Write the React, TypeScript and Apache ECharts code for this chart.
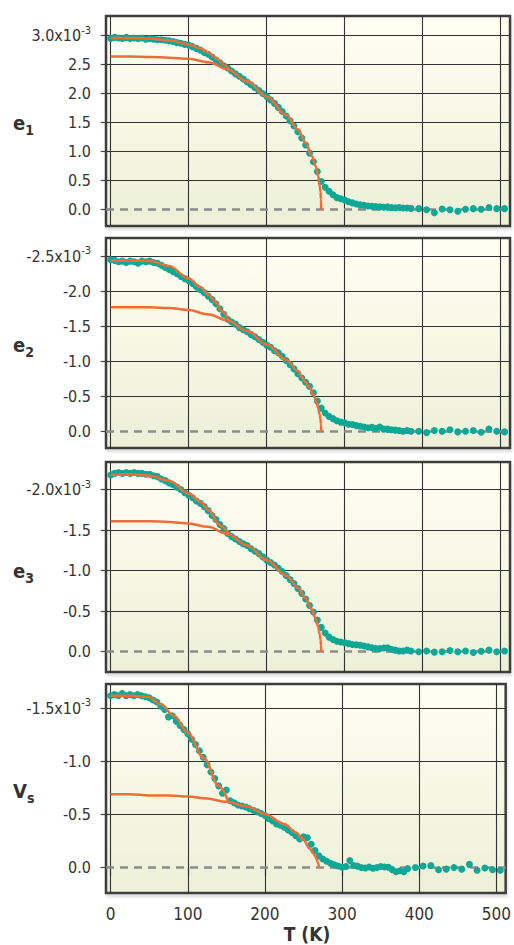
import React, { useEffect, useRef } from 'react';
import * as echarts from 'echarts';

// Temperatures (K) shared by the four measured series
const TEMPS = [
  0, 5, 10, 15, 20, 25, 30, 35, 40, 45, 50, 55, 60, 65, 70, 75, 80, 85, 90, 95,
  100, 105, 110, 115, 120, 125, 130, 135, 140, 145, 150, 155, 160, 165, 170, 175, 180, 185, 190, 195,
  200, 205, 210, 215, 220, 225, 230, 235, 240, 245, 250, 255, 260, 265, 270, 275, 280, 285, 290, 295,
  300, 305, 310, 315, 320, 325, 330, 335, 340, 345, 350, 355, 360, 365, 370, 375, 380, 385,
  395, 405, 415, 425, 435, 445, 455, 465, 475, 485, 495, 505,
];

// Measured strains (units of 1e-3)
const E1 = [
  2.95, 2.97, 2.96, 2.95, 2.97, 2.95, 2.96, 2.95, 2.96, 2.94,
  2.95, 2.94, 2.93, 2.93, 2.92, 2.91, 2.90, 2.88, 2.87, 2.85,
  2.84, 2.81, 2.78, 2.75, 2.71, 2.68, 2.63, 2.58, 2.53, 2.48,
  2.44, 2.39, 2.34, 2.30, 2.25, 2.20, 2.15, 2.10, 2.05, 2.00,
  1.95, 1.89, 1.83, 1.76, 1.69, 1.61, 1.53, 1.44, 1.34, 1.23,
  1.11, 0.97, 0.82, 0.65, 0.48, 0.38, 0.31, 0.25, 0.20, 0.18,
  0.16, 0.13, 0.11, 0.09, 0.075, 0.07, 0.055, 0.05, 0.045, 0.04,
  0.035, 0.04, 0.03, 0.025, 0.03, 0.02, 0.02, 0.015,
  0.01, -0.01, -0.06, 0.005, -0.01, -0.035, 0.0, 0.01, 0.0, 0.03, 0.01, 0.01,
];
const E2 = [
  -2.45, -2.44, -2.42, -2.43, -2.41, -2.43, -2.42, -2.40, -2.43, -2.42,
  -2.43, -2.41, -2.40, -2.37, -2.34, -2.31, -2.28, -2.25, -2.21, -2.18,
  -2.15, -2.11, -2.06, -2.02, -1.98, -1.93, -1.88, -1.82, -1.75, -1.67,
  -1.60, -1.56, -1.53, -1.48, -1.45, -1.42, -1.38, -1.35, -1.31, -1.27,
  -1.23, -1.20, -1.15, -1.12, -1.07, -1.01, -0.95, -0.89, -0.82, -0.76,
  -0.70, -0.64, -0.55, -0.43, -0.33, -0.26, -0.21, -0.18, -0.15, -0.13,
  -0.12, -0.10, -0.095, -0.08, -0.07, -0.06, -0.05, -0.055, -0.04, -0.06,
  -0.03, -0.03, -0.02, -0.015, -0.01, 0.0, -0.01, 0.0,
  0.0, 0.02, -0.01, 0.0, -0.02, 0.01, 0.0, -0.01, 0.015, -0.03, 0.0, 0.01,
];
const E3 = [
  -2.18, -2.20, -2.21, -2.20, -2.21, -2.20, -2.21, -2.20, -2.20, -2.19,
  -2.19, -2.17, -2.16, -2.13, -2.11, -2.08, -2.06, -2.03, -2.00, -1.96,
  -1.93, -1.90, -1.86, -1.83, -1.79, -1.74, -1.68, -1.63, -1.57, -1.52,
  -1.46, -1.42, -1.39, -1.36, -1.33, -1.31, -1.27, -1.24, -1.21, -1.17,
  -1.13, -1.10, -1.07, -1.03, -0.99, -0.94, -0.89, -0.84, -0.78, -0.72,
  -0.65, -0.57, -0.49, -0.39, -0.30, -0.23, -0.18, -0.15, -0.13, -0.12,
  -0.11, -0.10, -0.09, -0.085, -0.08, -0.07, -0.06, -0.05, -0.04, -0.04,
  -0.045, -0.05, -0.03, -0.02, -0.01, -0.01, -0.02, -0.01,
  0.0, -0.01, 0.005, 0.0, -0.015, 0.0, -0.01, 0.01, -0.005, -0.02, 0.0, -0.01,
];
const VS = [
  -1.62, -1.63, -1.62, -1.64, -1.62, -1.63, -1.62, -1.63, -1.62, -1.61,
  -1.60, -1.58, -1.56, -1.52, -1.49, -1.42, -1.43, -1.38, -1.34, -1.30,
  -1.26, -1.21, -1.16, -1.10, -1.04, -0.97, -0.90, -0.84, -0.77, -0.70,
  -0.73, -0.63, -0.61, -0.59, -0.58, -0.57, -0.555, -0.54, -0.525, -0.51,
  -0.49, -0.46, -0.44, -0.41, -0.40, -0.38, -0.355, -0.33, -0.30, -0.27,
  -0.29, -0.28, -0.22, -0.16, -0.11, -0.08, -0.06, -0.04, -0.025, -0.015,
  -0.003, -0.01, -0.066, -0.02, -0.013, 0.0, 0.005, -0.005, 0.006, 0.0,
  -0.01, -0.005, -0.003, 0.02, 0.04, 0.03, 0.04, 0.01,
  0.0, -0.015, -0.02, 0.02, 0.015, 0.0, 0.015, -0.03, 0.025, 0.005, 0.02, 0.025,
];

// Fitted curves [T, value]: single order parameter (low) and two-transition fit (high)
const FIT_LOW_1 = [[0, 2.64], [25, 2.64], [50, 2.63], [75, 2.62], [100, 2.60], [125, 2.54], [150, 2.42], [175, 2.21], [200, 1.95], [225, 1.63], [240, 1.38], [250, 1.15], [258, 0.92], [263, 0.74], [266, 0.58], [268, 0.40], [269, 0.30], [269.7, 0.17], [270, 0]];
const FIT_HIGH_1 = [[0, 2.96], [25, 2.96], [50, 2.95], [75, 2.92], [100, 2.85], [115, 2.78], [125, 2.71], [135, 2.62], [145, 2.50], [152, 2.40]];
const FIT_LOW_2 = [[0, -1.77], [25, -1.77], [50, -1.77], [75, -1.76], [100, -1.73], [125, -1.67], [150, -1.58], [175, -1.43], [200, -1.24], [225, -1.02], [240, -0.86], [245, -0.77], [250, -0.70], [255, -0.62], [260, -0.52], [264, -0.41], [266, -0.33], [268, -0.24], [269, -0.17], [269.7, -0.10], [270, 0]];
const FIT_HIGH_2 = [[0, -2.44], [25, -2.44], [50, -2.43], [75, -2.36], [100, -2.18], [115, -2.06], [125, -1.95], [135, -1.84], [142, -1.72], [152, -1.57]];
const FIT_LOW_3 = [[0, -1.61], [25, -1.61], [50, -1.61], [75, -1.60], [100, -1.58], [125, -1.54], [150, -1.45], [175, -1.31], [200, -1.13], [225, -0.94], [240, -0.79], [250, -0.66], [258, -0.52], [263, -0.40], [266, -0.31], [268, -0.22], [269, -0.15], [269.7, -0.08], [270, 0]];
const FIT_HIGH_3 = [[0, -2.18], [25, -2.19], [50, -2.17], [75, -2.11], [100, -1.95], [115, -1.85], [125, -1.75], [140, -1.56], [152, -1.44]];
const FIT_LOW_4 = [[0, -0.69], [25, -0.69], [50, -0.68], [75, -0.68], [100, -0.67], [125, -0.65], [150, -0.62], [175, -0.58], [200, -0.505], [225, -0.41], [240, -0.33], [250, -0.26], [258, -0.18], [263, -0.13], [266, -0.095], [268, -0.06], [269, -0.04], [270, 0]];
const FIT_HIGH_4 = [[0, -1.62], [25, -1.62], [48, -1.61], [65, -1.54], [82, -1.43], [100, -1.27], [121, -1.03], [140, -0.77], [152, -0.63]];

// Tick labels
const X_TICKS = [0, 100, 200, 300, 400, 500];
const Y_TICKS_1 = [0, 0.5, 1.0, 1.5, 2.0, 2.5, 3.0];
const Y_TICKS_2 = [0, -0.5, -1.0, -1.5, -2.0, -2.5];
const Y_TICKS_3 = [0, -0.5, -1.0, -1.5, -2.0];
const Y_TICKS_4 = [0, -0.5, -1.0, -1.5];
const NAME_MAIN = ['e', 'e', 'e', 'V'];
const NAME_SUB = ['1', '2', '3', 's'];

const FONT = "'Liberation Sans Narrow', 'DejaVu Sans Condensed', 'Roboto', sans-serif";
const TEXT = '#333333';
const TEAL = '#0fa897';
const ORANGE = '#f26d36';

const PANELS = [
  { top: 16, height: 210, min: -0.29, max: 3.34, inverse: false, data: E1, ticks: Y_TICKS_1, low: FIT_LOW_1, high: FIT_HIGH_1, nameY: 123 },
  { top: 238, height: 210, min: -2.76, max: 0.24, inverse: true, data: E2, ticks: Y_TICKS_2, low: FIT_LOW_2, high: FIT_HIGH_2, nameY: 345 },
  { top: 462, height: 210, min: -2.34, max: 0.25, inverse: true, data: E3, ticks: Y_TICKS_3, low: FIT_LOW_3, high: FIT_HIGH_3, nameY: 571 },
  { top: 684, height: 209, min: -1.73, max: 0.24, inverse: true, data: VS, ticks: Y_TICKS_4, low: FIT_LOW_4, high: FIT_HIGH_4, nameY: 791 },
];

export default function App() {
  const ref = useRef<HTMLDivElement>(null);
  useEffect(() => {
    const chart = echarts.init(ref.current!, null, { renderer: 'svg' });
    const bg = new echarts.graphic.LinearGradient(0, 0, 0, 1, [
      { offset: 0, color: '#fefef3' },
      { offset: 1, color: '#edf0d7' },
    ]);
    const grid = PANELS.map((p) => ({
      left: 106, width: 404, top: p.top, height: p.height,
      show: true, backgroundColor: bg, borderColor: '#3c3c3c', borderWidth: 2.5,
      shadowColor: 'rgba(0,0,0,0.12)', shadowOffsetX: 1, shadowOffsetY: 3, shadowBlur: 2,
    }));
    const last = PANELS.length - 1;
    const xAxis = PANELS.map((p, i) => ({
      type: 'value', gridIndex: i, min: -6, max: 512,
      axisLine: { show: false },
      splitLine: { show: false },
      axisTick: { show: i === last, length: 8, customValues: X_TICKS, lineStyle: { color: '#444', width: 1.2 } },
      axisLabel: { show: i === last, customValues: X_TICKS, margin: 12, color: TEXT, fontSize: 17, fontFamily: FONT },
    }));
    const yAxis = PANELS.map((p, i) => {
      const topTick = p.ticks[p.ticks.length - 1];
      return {
        type: 'value', gridIndex: i, min: p.min, max: p.max, inverse: p.inverse,
        axisLine: { show: false },
        splitLine: { show: false },
        axisTick: { show: true, length: 10, customValues: p.ticks, lineStyle: { color: '#444', width: 1.2 } },
        axisLabel: {
          customValues: p.ticks, margin: 15,
          formatter: (v: number) => {
            const s = Math.abs(v) < 1e-9 ? '0.0' : v.toFixed(1);
            return v === topTick ? `{n|${s}x10}{sup|-3}` : `{n|${s}}`;
          },
          rich: {
            n: { fontSize: 16, fontFamily: FONT, color: TEXT, lineHeight: 22, verticalAlign: 'middle' },
            sup: { fontSize: 11, fontFamily: FONT, color: TEXT, lineHeight: 22, verticalAlign: 'top' },
          },
        },
      };
    });
    const gridLine = { color: '#333', width: 1.1, type: 'solid' };
    const series: any[] = [];
    PANELS.forEach((p, i) => {
      const marks: any[] = [];
      X_TICKS.forEach((t) => marks.push({ xAxis: t, lineStyle: gridLine }));
      p.ticks.forEach((t) => {
        if (t !== 0) marks.push({ yAxis: t, lineStyle: gridLine });
      });
      marks.push({ yAxis: 0, lineStyle: { color: '#8c8c8c', width: 2.5, type: [8, 6] } });
      series.push({
        type: 'scatter', xAxisIndex: i, yAxisIndex: i, z: 3,
        symbolSize: 7,
        itemStyle: { color: TEAL, opacity: 1 },
        data: TEMPS.map((t, k) => [t, p.data[k]]),
        markLine: {
          silent: true, z: 1, symbol: ['none', 'none'], label: { show: false },
          emphasis: { disabled: true },
          data: marks,
        },
      });
      [p.low, p.high].forEach((fit) => {
        series.push({
          type: 'line', xAxisIndex: i, yAxisIndex: i, z: 4,
          data: fit, showSymbol: false, smooth: 0.35, smoothMonotone: 'x',
          lineStyle: { color: ORANGE, width: 2.5 },
        });
      });
    });
    const graphic: any[] = PANELS.map((p, i) => ({
      type: 'text', x: 13, y: p.nameY,
      style: {
        text: `{m|${NAME_MAIN[i]}}{s|${NAME_SUB[i]}}`,
        align: 'left', verticalAlign: 'middle',
        rich: {
          m: { fontSize: 20, fontWeight: 'bold', fontFamily: FONT, fill: TEXT, lineHeight: 28, verticalAlign: 'middle' },
          s: { fontSize: 14, fontWeight: 'bold', fontFamily: FONT, fill: TEXT, lineHeight: 28, verticalAlign: 'bottom' },
        },
      },
    }));
    graphic.push({
      type: 'text', x: 307, y: 934,
      style: { text: 'T (K)', align: 'center', verticalAlign: 'middle', fontSize: 19, fontWeight: 'bold', fontFamily: FONT, fill: TEXT },
    });
    chart.setOption({
      animation: false,
      backgroundColor: '#ffffff',
      grid, xAxis, yAxis, series, graphic,
    });
    return () => chart.dispose();
  }, []);
  return <div ref={ref} style={{ position: 'fixed', left: 0, top: 0, width: 514, height: 945 }} />;
}
